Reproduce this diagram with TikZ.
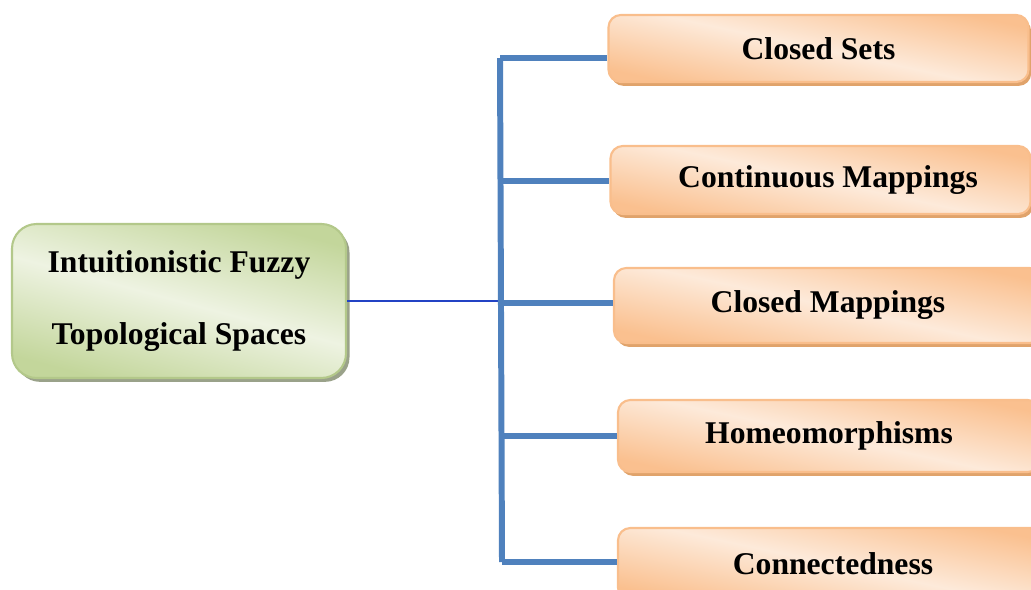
\documentclass[tikz,border=0pt]{standalone}
\usepackage{fontspec}
\setmainfont{Liberation Serif}
\usetikzlibrary{shadows}

\definecolor{barblue}{HTML}{4F81BD}
\definecolor{linkblue}{HTML}{2343C4}
\definecolor{grnD}{HTML}{C3D69B}
\definecolor{grnL}{HTML}{EEF3E2}
\definecolor{grnE}{HTML}{B3C88A}
\definecolor{orgD}{HTML}{FAC08F}
\definecolor{orgL}{HTML}{FDEADA}
\definecolor{orgE}{HTML}{F9BE8C}

\tikzset{
  topic/.style = {draw=orgE, line width=1.2pt, rounded corners=7pt,
    shading=axis, top color=orgD, bottom color=orgD, middle color=orgL,
    shading angle=-12, minimum width=420*0.02cm,
    font=\fontsize{18}{22}\selectfont\bfseries,
    drop shadow={shadow xshift=1.5pt, shadow yshift=-2.2pt, fill=brown!45!orgD, opacity=1}},
  root/.style = {draw=grnE, line width=1.2pt, rounded corners=14pt,
    shading=axis, top color=grnD, bottom color=grnD, middle color=grnL,
    shading angle=-15, minimum width=334*0.02cm, minimum height=154*0.02cm,
    align=center, font=\fontsize{18}{41}\selectfont\bfseries,
    drop shadow={shadow xshift=2pt, shadow yshift=-2.2pt, fill=gray!60!grnD, opacity=1}},
  trunk/.style = {barblue, line width=3.4pt},
}

\begin{document}
\begin{tikzpicture} [x=0.02cm, y=-0.02cm]
	\useasboundingbox (0,0) rectangle (1031,589);
	\clip (0,0) rectangle (1031,589);
	% main topic
	\node [root] (its) at (179,301) {Intuitionistic Fuzzy\\Topological Spaces};
	% sub topics
	\node [topic, minimum height=67*0.02cm] (cs) at (818.5,48.5) {Closed Sets};
	\node [topic, minimum height=68*0.02cm] (cm) at (820.5,180) {\hspace*{0.3cm}Continuous Mappings};
	\node [topic, minimum height=75*0.02cm, minimum width=428*0.02cm] (clm) at (828,305.5) {Closed Mappings};
	\node [topic, minimum height=72*0.02cm, minimum width=422*0.02cm] (hm) at (829,436) {Homeomorphisms};
	\node [topic, minimum height=72*0.02cm, minimum width=430*0.02cm] (cn) at (833,564) {Connectedness};
	% tree
	\coordinate (top) at (500,58);
	\coordinate (bot) at (502,562);
	\coordinate (mid) at (500,301);
	\draw [linkblue, line width=1.1pt] (its.east) -- (mid);
	\draw [trunk] (top) -- (bot);
	\draw [trunk] (top) -- (top -| cs.west);
	\draw [trunk] (500,181) -- (cm.west |- 0,181);
	\draw [trunk] (500,303) -- (clm.west |- 0,303);
	\draw [trunk] (500,436) -- (hm.west |- 0,436);
	\draw [trunk] (bot) -- (bot -| cn.west);
\end{tikzpicture}
\end{document}
